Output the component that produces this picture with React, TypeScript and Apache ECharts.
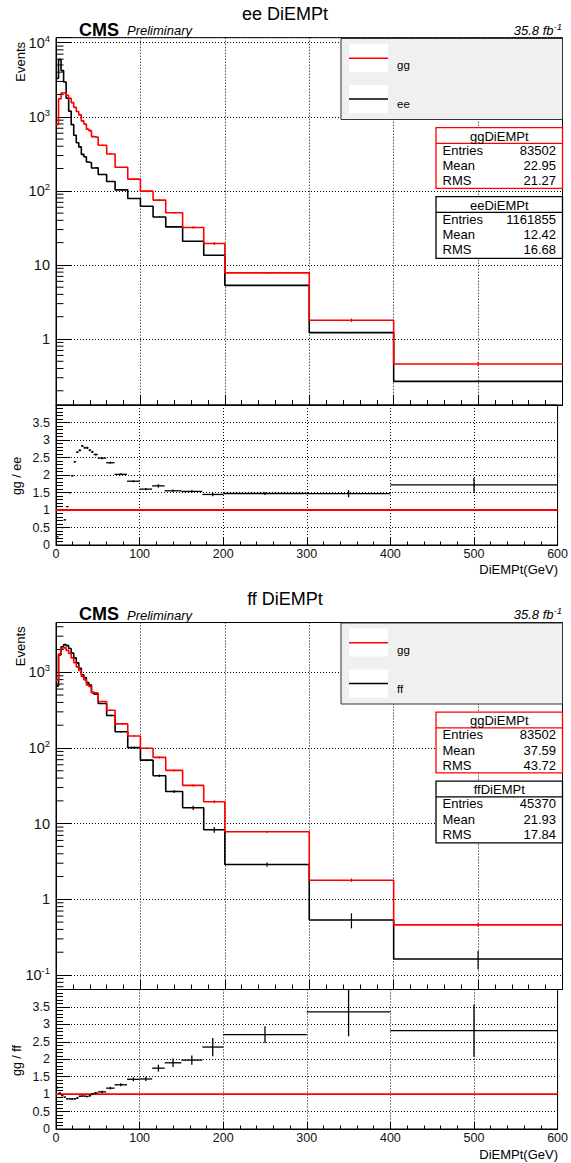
import React, { useEffect, useRef } from 'react';
import * as echarts from 'echarts';

// Di-EM pT binning (GeV) shared by all histograms
const binEdges = [0, 3, 6, 9, 12, 15, 18, 21, 24, 27, 30, 33, 36, 39, 42, 45, 50, 60, 70, 85, 100, 115, 130, 150, 175, 200, 300, 400, 600];

// gg (diphoton) candidate sample
const ggCounts = [785, 1750, 2090, 2120, 1950, 1780, 1550, 1340, 1180, 1060, 880, 800, 680, 650, 540, 530, 412, 315, 208, 144, 99, 75, 50.5, 32, 19.5, 7.8, 1.79, 0.46];
const ggErrors = [20, 30, 33, 33, 32, 30, 28, 26, 24, 23, 21, 20, 18, 18, 16, 12, 7, 6, 4, 3.5, 3, 2.5, 1.5, 1.2, 0.9, 0.25, 0.1, 0.03];

// ee control sample
const eeCounts = [3300, 5900, 4200, 2950, 1780, 1190, 783, 563, 445, 392, 311, 288, 245, 240, 203, 205, 166, 134, 103, 79, 62, 44.4, 32.6, 20.9, 13.5, 5.3, 1.22, 0.268];
const eeErrors = [10, 14, 12, 10, 8, 6, 5, 4, 3.5, 3, 3, 3, 2.5, 2.5, 2, 1.5, 1, 1, 0.7, 0.5, 0.5, 0.4, 0.3, 0.2, 0.2, 0.05, 0.02, 0.006];

// ff (fake) control sample
const ffCounts = [660, 1700, 2180, 2320, 2250, 2060, 1800, 1550, 1330, 1130, 930, 850, 730, 680, 540, 515, 387, 269, 164, 101, 69, 43, 26.6, 16.2, 8.3, 2.88, 0.533, 0.163];
const ffErrors = [15, 25, 28, 30, 29, 27, 25, 23, 22, 20, 18, 17, 16, 15, 14, 10, 7, 5.5, 3.6, 3, 2.2, 1.6, 1.2, 1, 0.7, 0.18, 0.12, 0.045];

// uncertainties on the gg / control ratios
const ratioGgEeErrors = [0.01, 0.01, 0.01, 0.01, 0.01, 0.02, 0.02, 0.02, 0.02, 0.03, 0.03, 0.03, 0.03, 0.03, 0.03, 0.03, 0.03, 0.03, 0.03, 0.03, 0.03, 0.05, 0.04, 0.04, 0.05, 0.04, 0.1, 0.2];
const ratioGgFfErrors = [0.03, 0.02, 0.02, 0.02, 0.02, 0.02, 0.02, 0.02, 0.02, 0.02, 0.02, 0.02, 0.02, 0.03, 0.03, 0.03, 0.03, 0.04, 0.04, 0.06, 0.06, 0.1, 0.12, 0.13, 0.26, 0.24, 0.7, 0.75];

// statistics boxes
const ggStatsEe = ['83502', '22.95', '21.27'];
const eeStats = ['1161855', '12.42', '16.68'];
const ggStatsFf = ['83502', '37.59', '43.72'];
const ffStats = ['45370', '21.93', '17.84'];
const statLabels = ['Entries', 'Mean', 'RMS'];

const xTicks = { min: 0, max: 600, interval: 100 };
const ratioRange = { min: 0, max: 4, interval: 0.5 };
const lumiText = '35.8 fb';

const FONT = '"Liberation Sans", Arial, Helvetica, sans-serif';
const DOTTED = { color: '#000', width: 1, type: [1, 2] as number[] };

function stepPoints(edges: number[], counts: number[]) {
  const pts: number[][] = [];
  counts.forEach((v, i) => {
    pts.push([edges[i], v]);
    pts.push([edges[i + 1], v]);
  });
  return pts;
}

function binCenters(edges: number[]) {
  return edges.slice(0, -1).map((e, i) => (e + edges[i + 1]) / 2);
}

function logMinorTicks(min: number, max: number) {
  const out: number[][] = [];
  for (let e = Math.floor(Math.log10(min)); e <= Math.ceil(Math.log10(max)); e++) {
    for (let k = 2; k <= 9; k++) {
      const v = k * Math.pow(10, e);
      if (v > min && v < max) out.push([0, v]);
    }
  }
  return out;
}

const logLabel = (v: number) => {
  const l = Math.log10(v);
  const e = Math.round(l);
  if (Math.abs(l - e) > 1e-6) return '';
  if (e === 0) return '{b|1}';
  if (e === 1) return '{b|10}';
  return `{b|10}{s|${e}}`;
};

function xAxisCfg(gi: number, ratio: boolean) {
  return {
    type: 'value', gridIndex: gi, ...xTicks,
    axisLine: { show: true, onZero: false, lineStyle: { color: '#000', width: 1 } },
    axisTick: { show: true, inside: true, length: ratio ? 7 : 10, lineStyle: { color: '#000' } },
    minorTick: { show: true, splitNumber: 5, length: ratio ? 3.5 : 5, lineStyle: { color: '#000' } },
    axisLabel: ratio
      ? { show: true, fontSize: 12.5, margin: 2, lineHeight: 13, color: '#111', fontFamily: FONT }
      : { show: false },
    splitLine: { show: true, lineStyle: DOTTED },
  };
}

function yLogCfg(gi: number, min: number, max: number) {
  return {
    type: 'log', logBase: 10, gridIndex: gi, min, max,
    axisLine: { show: true, lineStyle: { color: '#000', width: 1 } },
    axisTick: { show: true, inside: true, length: 15, lineStyle: { color: '#000' } },
    minorTick: { show: false },
    splitLine: { show: true, lineStyle: DOTTED },
    axisLabel: {
      formatter: logLabel, margin: 6, color: '#111', fontFamily: FONT,
      rich: {
        b: { fontSize: 14.5, fontFamily: FONT, color: '#111' },
        s: { fontSize: 9.5, fontFamily: FONT, color: '#111', padding: [0, 0, 9, 0] },
      },
    },
  };
}

function yRatioCfg(gi: number) {
  return {
    type: 'value', gridIndex: gi, ...ratioRange,
    axisLine: { show: true, lineStyle: { color: '#000', width: 1 } },
    axisTick: { show: true, inside: true, length: 14, lineStyle: { color: '#000' } },
    minorTick: { show: true, splitNumber: 5, length: 7, lineStyle: { color: '#000' } },
    splitLine: { show: true, lineStyle: DOTTED },
    axisLabel: { fontSize: 12.5, margin: 6, color: '#111', fontFamily: FONT, showMaxLabel: false },
  };
}

const minorTickRender = (len: number) => (params: any, api: any) => {
  const p = api.coord([0, api.value(1)]);
  return {
    type: 'line',
    shape: { x1: p[0], y1: p[1], x2: p[0] + len, y2: p[1] },
    style: { stroke: '#000', lineWidth: 1 },
  };
};

const histErrRender = (color: string) => (params: any, api: any) => {
  const x = api.value(0), v = api.value(1), e = api.value(2);
  const cs = params.coordSys;
  const clampY = (y: number) => Math.min(Math.max(y, cs.y), cs.y + cs.height);
  const a = api.coord([x, Math.max(v - e, v * 0.02)]);
  const b = api.coord([x, v + e]);
  return {
    type: 'line',
    shape: { x1: a[0], y1: clampY(a[1]), x2: b[0], y2: clampY(b[1]) },
    style: { stroke: color, lineWidth: 1.2 },
  };
};

const ratioRender = (params: any, api: any) => {
  const c = api.value(0), r = api.value(1), e = api.value(2), lo = api.value(3), hi = api.value(4);
  const cs = params.coordSys;
  const clampY = (y: number) => Math.min(Math.max(y, cs.y), cs.y + cs.height);
  const a = api.coord([lo, r]);
  const b = api.coord([hi, r]);
  const t = api.coord([c, r + e]);
  const u = api.coord([c, r - e]);
  return {
    type: 'group',
    children: [
      { type: 'line', shape: { x1: a[0], y1: a[1], x2: b[0], y2: b[1] }, style: { stroke: '#000', lineWidth: 1.3 } },
      { type: 'line', shape: { x1: t[0], y1: clampY(t[1]), x2: u[0], y2: clampY(u[1]) }, style: { stroke: '#000', lineWidth: 1.3 } },
    ],
  };
};

function panelSeries(gMain: number, gRatio: number, other: number[], otherErr: number[], ratioErr: number[], yMin: number, yMax: number) {
  const centers = binCenters(binEdges);
  const ratio = ggCounts.map((g, i) => [centers[i], g / other[i], ratioErr[i], binEdges[i], binEdges[i + 1]]);
  return [
    {
      type: 'custom', xAxisIndex: gMain, yAxisIndex: gMain, silent: true, z: 1,
      renderItem: minorTickRender(7.5), data: logMinorTicks(yMin, yMax), encode: { x: 0, y: 1 },
    },
    {
      type: 'line', xAxisIndex: gMain, yAxisIndex: gMain, data: stepPoints(binEdges, other),
      symbol: 'none', silent: true, lineStyle: { color: '#000', width: 1.6 }, z: 3,
    },
    {
      type: 'custom', xAxisIndex: gMain, yAxisIndex: gMain, silent: true, z: 3,
      renderItem: histErrRender('#000'), encode: { x: 0, y: 1 },
      data: other.map((v, i) => [centers[i], v, otherErr[i]]),
    },
    {
      type: 'line', xAxisIndex: gMain, yAxisIndex: gMain, data: stepPoints(binEdges, ggCounts),
      symbol: 'none', silent: true, lineStyle: { color: '#ff0000', width: 1.6 }, z: 4,
    },
    {
      type: 'custom', xAxisIndex: gMain, yAxisIndex: gMain, silent: true, z: 4,
      renderItem: histErrRender('#ff0000'), encode: { x: 0, y: 1 },
      data: ggCounts.map((v, i) => [centers[i], v, ggErrors[i]]),
    },
    {
      type: 'line', xAxisIndex: gRatio, yAxisIndex: gRatio, data: [[xTicks.min, 1], [xTicks.max, 1]],
      symbol: 'none', silent: true, lineStyle: { color: '#ff0000', width: 1.8 }, z: 3,
    },
    {
      type: 'custom', xAxisIndex: gRatio, yAxisIndex: gRatio, silent: true, z: 4,
      renderItem: ratioRender, encode: { x: 0, y: 1 }, data: ratio,
    },
  ];
}

function statsBox(x: number, y: number, w: number, h: number, color: string, title: string, values: string[]) {
  const rowY = [y + 22.6, y + 37.8, y + 53.1];
  const els: any[] = [
    { type: 'rect', z: 100, shape: { x, y, width: w, height: h }, style: { fill: '#fff', stroke: color, lineWidth: 1.3 } },
    { type: 'line', z: 101, shape: { x1: x, y1: y + 15.6, x2: x + w, y2: y + 15.6 }, style: { stroke: color, lineWidth: 1.2 } },
    { type: 'text', z: 101, x: x + w / 2, y: y + 8.3, style: { text: title, fontFamily: FONT, fontSize: 13, fill: '#000', align: 'center', verticalAlign: 'middle' } },
  ];
  statLabels.forEach((lab, i) => {
    els.push({ type: 'text', z: 101, x: x + 6.5, y: rowY[i], style: { text: lab, fontFamily: FONT, fontSize: 13, fill: '#000', verticalAlign: 'middle' } });
    els.push({ type: 'text', z: 101, x: x + w - 6.5, y: rowY[i], style: { text: values[i], fontFamily: FONT, fontSize: 13, fill: '#000', align: 'right', verticalAlign: 'middle' } });
  });
  return els;
}

function panelGraphics(dy: number, title: string, otherName: string, ggStats: string[], otherStats: string[]) {
  const txt = (x: number, y: number, text: string, extra: any) => ({
    type: 'text', z: 100, x, y: y + dy,
    style: { text, fontFamily: FONT, fill: '#000', ...extra },
  });
  return [
    txt(285, 14, title, { fontSize: 18, align: 'center', verticalAlign: 'middle' }),
    txt(79, 29.5, 'CMS', { fontSize: 18, fontWeight: 'bold', verticalAlign: 'middle' }),
    txt(127, 30.5, 'Preliminary', { fontSize: 13, fontStyle: 'italic', verticalAlign: 'middle' }),
    {
      type: 'text', z: 100, x: 562, y: 30 + dy,
      style: {
        text: `{a|${lumiText}}{s|-1}`, align: 'right', verticalAlign: 'middle',
        rich: {
          a: { fontSize: 13, fontStyle: 'italic', fontFamily: FONT, fill: '#000' },
          s: { fontSize: 9.5, fontStyle: 'italic', fontFamily: FONT, fill: '#000', padding: [0, 0, 8, 0] },
        },
      },
    },
    {
      type: 'text', z: 100, x: 20, y: 42 + dy, rotation: Math.PI / 2,
      style: { text: 'Events', fontFamily: FONT, fontSize: 13, fill: '#000', align: 'right', verticalAlign: 'middle' },
    },
    {
      type: 'text', z: 100, x: 17, y: 476 + dy, rotation: Math.PI / 2,
      style: { text: `gg / ${otherName}`, fontFamily: FONT, fontSize: 12.5, fill: '#000', align: 'center', verticalAlign: 'middle' },
    },
    txt(558, 569.5, 'DiEMPt(GeV)', { fontSize: 13, lineHeight: 13, align: 'right', verticalAlign: 'middle' }),
    // legend
    { type: 'rect', z: 100, shape: { x: 341, y: 38.5 + dy, width: 221.5, height: 81 }, style: { fill: '#f0f0f0', stroke: '#333', lineWidth: 1 } },
    { type: 'rect', z: 101, shape: { x: 349, y: 44 + dy, width: 39, height: 28 }, style: { fill: '#fff' } },
    { type: 'line', z: 102, shape: { x1: 349, y1: 58.3 + dy, x2: 388, y2: 58.3 + dy }, style: { stroke: '#ff0000', lineWidth: 1.4 } },
    txt(397, 65, 'gg', { fontSize: 11.5, verticalAlign: 'middle' }),
    { type: 'rect', z: 101, shape: { x: 349, y: 85 + dy, width: 39, height: 28 }, style: { fill: '#fff' } },
    { type: 'line', z: 102, shape: { x1: 349, y1: 99 + dy, x2: 388, y2: 99 + dy }, style: { stroke: '#000', lineWidth: 1.4 } },
    txt(397, 104, otherName, { fontSize: 11.5, verticalAlign: 'middle' }),
    ...statsBox(436, 127.7 + dy, 126.5, 60.6, '#ff0000', 'ggDiEMPt', ggStats),
    ...statsBox(436, 196.7 + dy, 126.5, 61.6, '#000', `${otherName}DiEMPt`, otherStats),
  ];
}

const TOP_MIN = 0.1285, TOP_MAX = 11680;
const BOT_MIN = 0.0643, BOT_MAX = 4550;

export default function App() {
  const ref = useRef<HTMLDivElement>(null);
  useEffect(() => {
    document.body.style.margin = '0';
    document.body.style.overflow = 'hidden';
    const chart = echarts.init(ref.current!, null, { renderer: 'svg' });
    const gridBox = { show: true, borderColor: '#000', borderWidth: 1, backgroundColor: '#fff' };
    chart.setOption({
      animation: false,
      backgroundColor: '#fff',
      textStyle: { fontFamily: FONT },
      grid: [
        { ...gridBox, left: 56, top: 37.7, width: 506.5, height: 367.3 },
        { ...gridBox, left: 56, top: 405, width: 506.5, height: 140 },
        { ...gridBox, left: 56, top: 622.5, width: 506.5, height: 367 },
        { ...gridBox, left: 56, top: 989.5, width: 506.5, height: 139.5 },
      ],
      xAxis: [xAxisCfg(0, false), xAxisCfg(1, true), xAxisCfg(2, false), xAxisCfg(3, true)],
      yAxis: [yLogCfg(0, TOP_MIN, TOP_MAX), yRatioCfg(1), yLogCfg(2, BOT_MIN, BOT_MAX), yRatioCfg(3)],
      series: [
        ...panelSeries(0, 1, eeCounts, eeErrors, ratioGgEeErrors, TOP_MIN, TOP_MAX),
        ...panelSeries(2, 3, ffCounts, ffErrors, ratioGgFfErrors, BOT_MIN, BOT_MAX),
      ],
      graphic: [
        ...panelGraphics(0, 'ee DiEMPt', 'ee', ggStatsEe, eeStats),
        ...panelGraphics(584.5, 'ff DiEMPt', 'ff', ggStatsFf, ffStats),
      ],
    });
    return () => chart.dispose();
  }, []);
  return <div ref={ref} style={{ position: 'absolute', left: 0, top: 0, width: 571, height: 1163 }} />;
}
